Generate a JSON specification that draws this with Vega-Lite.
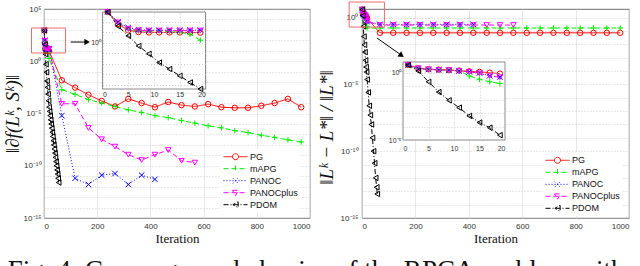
{
"$schema": "https://vega.github.io/schema/vega-lite/v6.json",
"padding": {"left": 2, "top": 1, "right": 0, "bottom": 0},
"background": "white",
"bounds": "flush",
"spacing": 52,
"title": {"text": "Fig. 4: Convergence behavior of the RPCA problem with", "orient": "bottom", "anchor": "start", "frame": "bounds", "font": "Liberation Serif", "fontSize": 27, "fontWeight": "normal", "color": "#111", "offset": 13, "dx": 5},
"config": {
  "view": {"stroke": "#4d4d4d", "strokeWidth": 0.8},
  "axis": {"labelFont": "Liberation Sans", "labelFontSize": 8, "labelColor": "#333", "titleFont": "Liberation Serif", "titleFontWeight": "normal", "titleColor": "#111", "ticks": false, "domain": false, "gridColor": "#dedede", "gridWidth": 0.7, "labelOverlap": false},
  "legend": {"labelFont": "Liberation Sans", "labelFontSize": 9, "labelColor": "#111"}
},
"datasets": {
"grad": [
{"alg":"PG","it":1,"v":900},{"alg":"PG","it":3,"v":63},{"alg":"PG","it":5,"v":16},{"alg":"PG","it":7,"v":11},{"alg":"PG","it":9,"v":10},{"alg":"PG","it":11,"v":10},{"alg":"PG","it":13,"v":10},{"alg":"PG","it":15,"v":10},{"alg":"PG","it":17,"v":10},{"alg":"PG","it":19,"v":9.5},
{"alg":"PG","it":67,"v":0.015},{"alg":"PG","it":117,"v":0.003},{"alg":"PG","it":167,"v":6.3e-4},{"alg":"PG","it":217,"v":1.6e-4},{"alg":"PG","it":267,"v":4.7e-5},{"alg":"PG","it":317,"v":2.5e-4},{"alg":"PG","it":367,"v":1.0e-4},{"alg":"PG","it":417,"v":4.0e-5},{"alg":"PG","it":467,"v":1.26e-4},{"alg":"PG","it":517,"v":6.3e-5},{"alg":"PG","it":567,"v":4.7e-5},{"alg":"PG","it":617,"v":7.9e-5},{"alg":"PG","it":667,"v":4.0e-5},{"alg":"PG","it":717,"v":3.5e-5},{"alg":"PG","it":767,"v":3.5e-5},{"alg":"PG","it":817,"v":5.5e-5},{"alg":"PG","it":867,"v":1.0e-4},{"alg":"PG","it":917,"v":2.5e-4},{"alg":"PG","it":967,"v":4.0e-5},
{"alg":"mAPG","it":1,"v":900},{"alg":"mAPG","it":3,"v":80},{"alg":"mAPG","it":5,"v":20},{"alg":"mAPG","it":7,"v":14},{"alg":"mAPG","it":9,"v":14},{"alg":"mAPG","it":11,"v":14},{"alg":"mAPG","it":13,"v":12.6},{"alg":"mAPG","it":15,"v":10},{"alg":"mAPG","it":17,"v":7},{"alg":"mAPG","it":19,"v":1.8},
{"alg":"mAPG","it":67,"v":1.9e-3},{"alg":"mAPG","it":117,"v":6.8e-4},{"alg":"mAPG","it":167,"v":2.1e-4},{"alg":"mAPG","it":217,"v":1.0e-4},{"alg":"mAPG","it":267,"v":4.7e-5},{"alg":"mAPG","it":317,"v":2.2e-5},{"alg":"mAPG","it":367,"v":1.26e-5},{"alg":"mAPG","it":417,"v":6.3e-6},{"alg":"mAPG","it":467,"v":4.0e-6},{"alg":"mAPG","it":517,"v":2.1e-6},{"alg":"mAPG","it":567,"v":1.2e-6},{"alg":"mAPG","it":617,"v":6.6e-7},{"alg":"mAPG","it":667,"v":4.2e-7},{"alg":"mAPG","it":717,"v":2.3e-7},{"alg":"mAPG","it":767,"v":1.5e-7},{"alg":"mAPG","it":817,"v":8.3e-8},{"alg":"mAPG","it":867,"v":5.2e-8},{"alg":"mAPG","it":917,"v":3.0e-8},{"alg":"mAPG","it":967,"v":1.9e-8},
{"alg":"PANOC","it":1,"v":900},{"alg":"PANOC","it":3,"v":100},{"alg":"PANOC","it":5,"v":29},{"alg":"PANOC","it":7,"v":18},{"alg":"PANOC","it":9,"v":16},{"alg":"PANOC","it":11,"v":16},{"alg":"PANOC","it":13,"v":16},{"alg":"PANOC","it":15,"v":16},{"alg":"PANOC","it":17,"v":16},{"alg":"PANOC","it":19,"v":16},
{"alg":"PANOC","it":67,"v":6.3e-6},{"alg":"PANOC","it":117,"v":6.3e-12},{"alg":"PANOC","it":167,"v":1.6e-12},{"alg":"PANOC","it":217,"v":1.26e-11},{"alg":"PANOC","it":267,"v":1.8e-11},{"alg":"PANOC","it":317,"v":1.6e-12},{"alg":"PANOC","it":367,"v":1.26e-11},{"alg":"PANOC","it":417,"v":5e-12},
{"alg":"PANOCplus","it":1,"v":900},{"alg":"PANOCplus","it":3,"v":90},{"alg":"PANOCplus","it":5,"v":22},{"alg":"PANOCplus","it":7,"v":16},{"alg":"PANOCplus","it":9,"v":15},{"alg":"PANOCplus","it":11,"v":15},{"alg":"PANOCplus","it":13,"v":15},{"alg":"PANOCplus","it":15,"v":15},{"alg":"PANOCplus","it":17,"v":15},{"alg":"PANOCplus","it":19,"v":15},
{"alg":"PANOCplus","it":67,"v":8.5e-5},{"alg":"PANOCplus","it":117,"v":8.5e-5},{"alg":"PANOCplus","it":167,"v":4.2e-7},{"alg":"PANOCplus","it":217,"v":3.4e-8},{"alg":"PANOCplus","it":267,"v":6.8e-9},{"alg":"PANOCplus","it":317,"v":1.15e-9},{"alg":"PANOCplus","it":367,"v":3.5e-10},{"alg":"PANOCplus","it":417,"v":1.15e-9},{"alg":"PANOCplus","it":467,"v":3.2e-9},{"alg":"PANOCplus","it":517,"v":3.0e-10},{"alg":"PANOCplus","it":567,"v":2.0e-10},
{"alg":"PDOM","it":1,"v":900},{"alg":"PDOM","it":3,"v":40},{"alg":"PDOM","it":5,"v":4.7},{"alg":"PDOM","it":7,"v":0.51},{"alg":"PDOM","it":9,"v":0.089},{"alg":"PDOM","it":11,"v":0.013},{"alg":"PDOM","it":13,"v":3.2e-3},{"alg":"PDOM","it":15,"v":7.2e-4},{"alg":"PDOM","it":17,"v":1.66e-4},{"alg":"PDOM","it":19,"v":4.0e-5},
{"alg":"PDOM","it":21,"v":1.6e-5},{"alg":"PDOM","it":23,"v":6.3e-6},{"alg":"PDOM","it":25,"v":2.5e-6},{"alg":"PDOM","it":27,"v":1.0e-6},{"alg":"PDOM","it":29,"v":4.0e-7},{"alg":"PDOM","it":31,"v":1.6e-7},{"alg":"PDOM","it":33,"v":6.3e-8},{"alg":"PDOM","it":35,"v":2.5e-8},{"alg":"PDOM","it":37,"v":1.0e-8},{"alg":"PDOM","it":39,"v":4.0e-9},{"alg":"PDOM","it":41,"v":1.6e-9},{"alg":"PDOM","it":43,"v":6.3e-10},{"alg":"PDOM","it":45,"v":2.5e-10},{"alg":"PDOM","it":47,"v":1.0e-10},{"alg":"PDOM","it":49,"v":4.0e-11},{"alg":"PDOM","it":51,"v":1.6e-11},{"alg":"PDOM","it":53,"v":6.3e-12},{"alg":"PDOM","it":55,"v":2.5e-12}
],
"err": [
{"alg":"PG","it":1,"v":4.0},{"alg":"PG","it":3,"v":2.24},{"alg":"PG","it":5,"v":1.9},{"alg":"PG","it":7,"v":1.78},{"alg":"PG","it":9,"v":1.66},{"alg":"PG","it":11,"v":1.51},{"alg":"PG","it":13,"v":1.32},{"alg":"PG","it":15,"v":1.2},{"alg":"PG","it":17,"v":1.05},{"alg":"PG","it":19,"v":0.89},
{"alg":"PG","it":67,"v":0.072},{"alg":"PG","it":117,"v":0.072},{"alg":"PG","it":167,"v":0.072},{"alg":"PG","it":217,"v":0.072},{"alg":"PG","it":267,"v":0.072},{"alg":"PG","it":317,"v":0.072},{"alg":"PG","it":367,"v":0.072},{"alg":"PG","it":417,"v":0.072},{"alg":"PG","it":467,"v":0.072},{"alg":"PG","it":517,"v":0.072},{"alg":"PG","it":567,"v":0.072},{"alg":"PG","it":617,"v":0.072},{"alg":"PG","it":667,"v":0.072},{"alg":"PG","it":717,"v":0.072},{"alg":"PG","it":767,"v":0.072},{"alg":"PG","it":817,"v":0.072},{"alg":"PG","it":867,"v":0.072},{"alg":"PG","it":917,"v":0.072},{"alg":"PG","it":967,"v":0.072},
{"alg":"mAPG","it":1,"v":4.0},{"alg":"mAPG","it":3,"v":2.2},{"alg":"mAPG","it":5,"v":1.9},{"alg":"mAPG","it":7,"v":1.78},{"alg":"mAPG","it":9,"v":1.66},{"alg":"mAPG","it":11,"v":1.45},{"alg":"mAPG","it":13,"v":0.6},{"alg":"mAPG","it":15,"v":0.34},{"alg":"mAPG","it":17,"v":0.22},{"alg":"mAPG","it":19,"v":0.165},
{"alg":"mAPG","it":67,"v":0.165},{"alg":"mAPG","it":117,"v":0.165},{"alg":"mAPG","it":167,"v":0.165},{"alg":"mAPG","it":217,"v":0.165},{"alg":"mAPG","it":267,"v":0.165},{"alg":"mAPG","it":317,"v":0.165},{"alg":"mAPG","it":367,"v":0.165},{"alg":"mAPG","it":417,"v":0.165},{"alg":"mAPG","it":467,"v":0.165},{"alg":"mAPG","it":517,"v":0.165},{"alg":"mAPG","it":567,"v":0.165},{"alg":"mAPG","it":617,"v":0.165},{"alg":"mAPG","it":667,"v":0.165},{"alg":"mAPG","it":717,"v":0.165},{"alg":"mAPG","it":767,"v":0.165},{"alg":"mAPG","it":817,"v":0.165},{"alg":"mAPG","it":867,"v":0.165},{"alg":"mAPG","it":917,"v":0.165},{"alg":"mAPG","it":967,"v":0.165},
{"alg":"PANOC","it":1,"v":4.0},{"alg":"PANOC","it":3,"v":2.2},{"alg":"PANOC","it":5,"v":1.85},{"alg":"PANOC","it":7,"v":1.7},{"alg":"PANOC","it":9,"v":1.6},{"alg":"PANOC","it":11,"v":1.4},{"alg":"PANOC","it":13,"v":1.25},{"alg":"PANOC","it":15,"v":1.0},{"alg":"PANOC","it":17,"v":0.62},{"alg":"PANOC","it":19,"v":0.5},
{"alg":"PANOC","it":67,"v":0.31},{"alg":"PANOC","it":117,"v":0.31},{"alg":"PANOC","it":167,"v":0.31},{"alg":"PANOC","it":217,"v":0.31},{"alg":"PANOC","it":267,"v":0.31},{"alg":"PANOC","it":317,"v":0.31},{"alg":"PANOC","it":367,"v":0.31},{"alg":"PANOC","it":417,"v":0.31},
{"alg":"PANOCplus","it":1,"v":4.0},{"alg":"PANOCplus","it":3,"v":2.2},{"alg":"PANOCplus","it":5,"v":1.85},{"alg":"PANOCplus","it":7,"v":1.7},{"alg":"PANOCplus","it":9,"v":1.6},{"alg":"PANOCplus","it":11,"v":1.4},{"alg":"PANOCplus","it":13,"v":1.2},{"alg":"PANOCplus","it":15,"v":0.95},{"alg":"PANOCplus","it":17,"v":0.6},{"alg":"PANOCplus","it":19,"v":0.48},
{"alg":"PANOCplus","it":67,"v":0.275},{"alg":"PANOCplus","it":117,"v":0.275},{"alg":"PANOCplus","it":167,"v":0.275},{"alg":"PANOCplus","it":217,"v":0.275},{"alg":"PANOCplus","it":267,"v":0.275},{"alg":"PANOCplus","it":317,"v":0.275},{"alg":"PANOCplus","it":367,"v":0.275},{"alg":"PANOCplus","it":417,"v":0.275},{"alg":"PANOCplus","it":467,"v":0.275},{"alg":"PANOCplus","it":517,"v":0.275},{"alg":"PANOCplus","it":567,"v":0.275},
{"alg":"PDOM","it":1,"v":4.0},{"alg":"PDOM","it":3,"v":1.4},{"alg":"PDOM","it":5,"v":0.22},{"alg":"PDOM","it":7,"v":0.038},{"alg":"PDOM","it":9,"v":9.1e-3},{"alg":"PDOM","it":11,"v":2.6e-3},{"alg":"PDOM","it":13,"v":6.3e-4},{"alg":"PDOM","it":15,"v":2.0e-4},{"alg":"PDOM","it":17,"v":8.3e-5},{"alg":"PDOM","it":19,"v":2.3e-5},
{"alg":"PDOM","it":23,"v":2.5e-6},{"alg":"PDOM","it":27,"v":2.5e-7},{"alg":"PDOM","it":31,"v":5e-8},{"alg":"PDOM","it":35,"v":1e-8},{"alg":"PDOM","it":39,"v":1e-9},{"alg":"PDOM","it":43,"v":1e-10},{"alg":"PDOM","it":47,"v":1.26e-11},{"alg":"PDOM","it":51,"v":1e-12},{"alg":"PDOM","it":55,"v":2e-13},{"alg":"PDOM","it":57,"v":6.3e-14}
]
},
"resolve": {"scale": {"color": "independent", "strokeDash": "independent", "shape": "independent"}},
"hconcat": [
{
 "width": 266, "height": 209,
 "data": {"name": "grad"},
 "resolve": {"scale": {"x": "independent", "y": "independent"}},
 "layer": [
  {
   "layer": [
    {"mark": {"type": "point", "filled": false, "size": 0, "strokeWidth": 0},
     "encoding": {
      "x": {"field": "it", "type": "quantitative", "scale": {"domain": [0, 1000], "nice": false}, "axis": {"values": [0,100,200,300,400,500,600,700,800,900,1000], "format": "d", "title": "Iteration", "titleFontSize": 13, "titlePadding": 2, "labelPadding": 4, "grid": true}},
      "y": {"field": "v", "type": "quantitative", "scale": {"type": "log", "domain": [1e-15, 1e5], "nice": false}, "axis": {"values": [1e-15,1e-14,1e-13,1e-12,1e-11,1e-10,1e-9,1e-8,1e-7,1e-6,1e-5,1e-4,1e-3,1e-2,1e-1,1,10,100,1000,1e4,1e5], "labelExpr": "indexof([5,0,-5,-10,-15], round(log(datum.value)/LN10)) >= 0 ? ['10⁵','10⁰','10⁻⁵','10⁻¹⁰','10⁻¹⁵'][indexof([5,0,-5,-10,-15], round(log(datum.value)/LN10))] : ''", "title": "‖∂f(Lᵏ, Sᵏ)‖", "titleFontSize": 19, "titleFontStyle": "italic", "titlePadding": 1, "titleY": 104.5, "labelPadding": 3, "grid": true, "gridDash": [1,2], "gridColor": "#bdbdbd"}},
      "color": {"field": "alg", "type": "nominal", "scale": {"domain": ["PG","mAPG","PANOC","PANOCplus","PDOM"], "range": ["#ff0000","#00ee00","#0000ff","#ff00ff","#000000"]}, "legend": {"orient": "none", "legendX": 177, "legendY": 139.7, "title": null, "symbolSize": 576, "symbolStrokeWidth": 1, "symbolOpacity": 1, "clipHeight": 12, "rowPadding": 0, "padding": 2, "fillColor": "white", "labelOffset": 2}},
      "strokeDash": {"field": "alg", "type": "nominal", "scale": {"domain": ["PG","mAPG","PANOC","PANOCplus","PDOM"], "range": [[1,0],[5,3],[1,2],[5,3],[5,2,1,2]]}, "legend": {"orient": "none", "legendX": 177, "legendY": 139.7, "title": null, "symbolSize": 576, "symbolStrokeWidth": 1, "symbolOpacity": 1, "clipHeight": 12, "rowPadding": 0, "padding": 2, "fillColor": "white", "labelOffset": 2}},
      "shape": {"field": "alg", "type": "nominal", "scale": {"domain": ["PG","mAPG","PANOC","PANOCplus","PDOM"], "range": ["M-1,0H-0.25M0.25,0H1M0.25,0A0.25,0.25,0,1,1,-0.25,0A0.25,0.25,0,1,1,0.25,0", "M-1,0H1M0,-0.28V0.28", "M-1,0H1M-0.22,-0.22L0.22,0.22M-0.22,0.22L0.22,-0.22", "M-1,0H1M-0.25,-0.2L0.25,-0.2L0,0.24Z", "M-1,0H1M0.22,-0.25L0.22,0.25L-0.22,0Z"]}, "legend": {"orient": "none", "legendX": 177, "legendY": 139.7, "title": null, "symbolSize": 576, "symbolStrokeWidth": 1, "symbolOpacity": 1, "clipHeight": 12, "rowPadding": 0, "padding": 2, "fillColor": "white", "labelOffset": 2}}
     }},
    {"mark": {"type": "line", "strokeWidth": 1},
     "encoding": {
      "x": {"field": "it", "type": "quantitative"},
      "y": {"field": "v", "type": "quantitative"},
      "color": {"field": "alg", "type": "nominal", "legend": null},
      "strokeDash": {"field": "alg", "type": "nominal", "legend": null}
     }},
    {"transform": [{"filter": "datum.alg == 'PG'"}], "mark": {"type": "point", "shape": "circle", "filled": false, "size": 30, "strokeWidth": 1, "opacity": 1},
     "encoding": {"x": {"field": "it", "type": "quantitative"}, "y": {"field": "v", "type": "quantitative"}, "color": {"field": "alg", "type": "nominal", "legend": null}}},
    {"transform": [{"filter": "datum.alg == 'mAPG'"}], "mark": {"type": "point", "shape": "M-1,0H1M0,-1V1", "filled": false, "size": 30, "strokeWidth": 1, "opacity": 1},
     "encoding": {"x": {"field": "it", "type": "quantitative"}, "y": {"field": "v", "type": "quantitative"}, "color": {"field": "alg", "type": "nominal", "legend": null}}},
    {"transform": [{"filter": "datum.alg == 'PANOC'"}], "mark": {"type": "point", "shape": "M-1,-1L1,1M-1,1L1,-1", "filled": false, "size": 30, "strokeWidth": 1, "opacity": 1},
     "encoding": {"x": {"field": "it", "type": "quantitative"}, "y": {"field": "v", "type": "quantitative"}, "color": {"field": "alg", "type": "nominal", "legend": null}}},
    {"transform": [{"filter": "datum.alg == 'PANOCplus'"}], "mark": {"type": "point", "shape": "triangle-down", "filled": false, "size": 30, "strokeWidth": 1, "opacity": 1},
     "encoding": {"x": {"field": "it", "type": "quantitative"}, "y": {"field": "v", "type": "quantitative"}, "color": {"field": "alg", "type": "nominal", "legend": null}}},
    {"transform": [{"filter": "datum.alg == 'PDOM'"}], "mark": {"type": "point", "shape": "triangle-left", "filled": false, "size": 30, "strokeWidth": 1, "opacity": 1},
     "encoding": {"x": {"field": "it", "type": "quantitative"}, "y": {"field": "v", "type": "quantitative"}, "color": {"field": "alg", "type": "nominal", "legend": null}}},
    {"data": {"values": [{}]}, "mark": {"type": "rect", "fillOpacity": 0, "stroke": "#f06a6a", "strokeWidth": 1},
     "encoding": {"x": {"datum": -47, "type": "quantitative"}, "x2": {"datum": 81}, "y": {"datum": 1514, "type": "quantitative"}, "y2": {"datum": 6.2}}},
    {"data": {"values": [{}]}, "mark": {"type": "rule", "color": "black", "strokeWidth": 1},
     "encoding": {"x": {"datum": 100, "type": "quantitative"}, "x2": {"datum": 160}, "y": {"datum": 69, "type": "quantitative"}, "y2": {"datum": 69}}},
    {"data": {"values": [{}]}, "mark": {"type": "point", "shape": "triangle-right", "filled": true, "size": 40, "color": "black", "opacity": 1},
     "encoding": {"x": {"datum": 162, "type": "quantitative"}, "y": {"datum": 69, "type": "quantitative"}}}
   ]
  },
  {
   "layer": [
    {"data": {"values": [{}]}, "mark": {"type": "rect", "fill": "white", "stroke": "#6e6e6e", "strokeWidth": 0.8},
     "encoding": {"x": {"datum": 0, "type": "quantitative"}, "x2": {"datum": 20}, "y": {"datum": 891, "type": "quantitative"}, "y2": {"datum": 3.98e-5}}},
    {"transform": [{"filter": "datum.it <= 20"}],
     "mark": {"type": "line", "strokeWidth": 1},
     "encoding": {
      "x": {"field": "it", "type": "quantitative", "scale": {"domain": [0, 20], "range": [58.5, 161.5], "nice": false}, "axis": {"orient": "top", "offset": -88.5, "values": [0,5,10,15,20], "title": null, "grid": true, "gridDash": [1,2], "gridColor": "#bbbbbb", "labelPadding": 0, "labelFontSize": 7, "zindex": 1}},
      "y": {"field": "v", "type": "quantitative", "scale": {"type": "log", "domain": [3.98e-5, 891], "range": [80, 3], "nice": false}, "axis": {"orient": "left", "offset": -58.5, "values": [1e-4,1e-3,1e-2,0.1,1,10,100], "labelExpr": "datum.value == 1 ? '10⁰' : ''", "title": null, "grid": true, "gridDash": [1,2], "gridColor": "#bbbbbb", "labelPadding": 2, "labelFontSize": 7, "zindex": 1}},
      "color": {"field": "alg", "type": "nominal", "legend": null},
      "strokeDash": {"field": "alg", "type": "nominal", "legend": null}
     }},
    {"transform": [{"filter": "datum.alg == 'PG' && datum.it <= 20"}], "mark": {"type": "point", "shape": "circle", "filled": false, "size": 30, "strokeWidth": 1, "opacity": 1},
     "encoding": {"x": {"field": "it", "type": "quantitative"}, "y": {"field": "v", "type": "quantitative"}, "color": {"field": "alg", "type": "nominal", "legend": null}}},
    {"transform": [{"filter": "datum.alg == 'mAPG' && datum.it <= 20"}], "mark": {"type": "point", "shape": "M-1,0H1M0,-1V1", "filled": false, "size": 30, "strokeWidth": 1, "opacity": 1},
     "encoding": {"x": {"field": "it", "type": "quantitative"}, "y": {"field": "v", "type": "quantitative"}, "color": {"field": "alg", "type": "nominal", "legend": null}}},
    {"transform": [{"filter": "datum.alg == 'PANOC' && datum.it <= 20"}], "mark": {"type": "point", "shape": "M-1,-1L1,1M-1,1L1,-1", "filled": false, "size": 30, "strokeWidth": 1, "opacity": 1},
     "encoding": {"x": {"field": "it", "type": "quantitative"}, "y": {"field": "v", "type": "quantitative"}, "color": {"field": "alg", "type": "nominal", "legend": null}}},
    {"transform": [{"filter": "datum.alg == 'PANOCplus' && datum.it <= 20"}], "mark": {"type": "point", "shape": "triangle-down", "filled": false, "size": 30, "strokeWidth": 1, "opacity": 1},
     "encoding": {"x": {"field": "it", "type": "quantitative"}, "y": {"field": "v", "type": "quantitative"}, "color": {"field": "alg", "type": "nominal", "legend": null}}},
    {"transform": [{"filter": "datum.alg == 'PDOM' && datum.it <= 20"}], "mark": {"type": "point", "shape": "triangle-left", "filled": false, "size": 30, "strokeWidth": 1, "opacity": 1},
     "encoding": {"x": {"field": "it", "type": "quantitative"}, "y": {"field": "v", "type": "quantitative"}, "color": {"field": "alg", "type": "nominal", "legend": null}}}
   ]
  }
 ]
},
{
 "width": 267, "height": 209,
 "data": {"name": "err"},
 "resolve": {"scale": {"x": "independent", "y": "independent"}},
 "layer": [
  {
   "layer": [
    {"mark": {"type": "point", "filled": false, "size": 0, "strokeWidth": 0},
     "encoding": {
      "x": {"field": "it", "type": "quantitative", "scale": {"domain": [0, 1000], "nice": false}, "axis": {"values": [0,100,200,300,400,500,600,700,800,900,1000], "format": "d", "title": "Iteration", "titleFontSize": 13, "titlePadding": 2, "labelPadding": 4, "grid": true}},
      "y": {"field": "v", "type": "quantitative", "scale": {"type": "log", "domain": [1e-15, 4.37], "nice": false}, "axis": {"values": [1e-15,1e-14,1e-13,1e-12,1e-11,1e-10,1e-9,1e-8,1e-7,1e-6,1e-5,1e-4,1e-3,1e-2,1e-1,1], "labelExpr": "indexof([0,-5,-10,-15], round(log(datum.value)/LN10)) >= 0 ? ['10⁰','10⁻⁵','10⁻¹⁰','10⁻¹⁵'][indexof([0,-5,-10,-15], round(log(datum.value)/LN10))] : ''", "title": "‖Lᵏ − L*‖ / ‖L*‖", "titleFontSize": 19, "titleFontStyle": "italic", "titlePadding": 4, "titleY": 118, "labelPadding": 4, "grid": true, "gridDash": [1,2], "gridColor": "#bdbdbd"}},
      "color": {"field": "alg", "type": "nominal", "scale": {"domain": ["PG","mAPG","PANOC","PANOCplus","PDOM"], "range": ["#ff0000","#00ee00","#0000ff","#ff00ff","#000000"]}, "legend": {"orient": "none", "legendX": 181, "legendY": 143.3, "title": null, "symbolSize": 576, "symbolStrokeWidth": 1, "symbolOpacity": 1, "clipHeight": 12, "rowPadding": 0, "padding": 2, "fillColor": "white", "labelOffset": 2}},
      "strokeDash": {"field": "alg", "type": "nominal", "scale": {"domain": ["PG","mAPG","PANOC","PANOCplus","PDOM"], "range": [[1,0],[5,3],[1,2],[5,3],[5,2,1,2]]}, "legend": {"orient": "none", "legendX": 181, "legendY": 143.3, "title": null, "symbolSize": 576, "symbolStrokeWidth": 1, "symbolOpacity": 1, "clipHeight": 12, "rowPadding": 0, "padding": 2, "fillColor": "white", "labelOffset": 2}},
      "shape": {"field": "alg", "type": "nominal", "scale": {"domain": ["PG","mAPG","PANOC","PANOCplus","PDOM"], "range": ["M-1,0H-0.25M0.25,0H1M0.25,0A0.25,0.25,0,1,1,-0.25,0A0.25,0.25,0,1,1,0.25,0", "M-1,0H1M0,-0.28V0.28", "M-1,0H1M-0.22,-0.22L0.22,0.22M-0.22,0.22L0.22,-0.22", "M-1,0H1M-0.25,-0.2L0.25,-0.2L0,0.24Z", "M-1,0H1M0.22,-0.25L0.22,0.25L-0.22,0Z"]}, "legend": {"orient": "none", "legendX": 181, "legendY": 143.3, "title": null, "symbolSize": 576, "symbolStrokeWidth": 1, "symbolOpacity": 1, "clipHeight": 12, "rowPadding": 0, "padding": 2, "fillColor": "white", "labelOffset": 2}}
     }},
    {"mark": {"type": "line", "strokeWidth": 1},
     "encoding": {
      "x": {"field": "it", "type": "quantitative"},
      "y": {"field": "v", "type": "quantitative"},
      "color": {"field": "alg", "type": "nominal", "legend": null},
      "strokeDash": {"field": "alg", "type": "nominal", "legend": null}
     }},
    {"transform": [{"filter": "datum.alg == 'PG'"}], "mark": {"type": "point", "shape": "circle", "filled": false, "size": 30, "strokeWidth": 1, "opacity": 1},
     "encoding": {"x": {"field": "it", "type": "quantitative"}, "y": {"field": "v", "type": "quantitative"}, "color": {"field": "alg", "type": "nominal", "legend": null}}},
    {"transform": [{"filter": "datum.alg == 'mAPG'"}], "mark": {"type": "point", "shape": "M-1,0H1M0,-1V1", "filled": false, "size": 30, "strokeWidth": 1, "opacity": 1},
     "encoding": {"x": {"field": "it", "type": "quantitative"}, "y": {"field": "v", "type": "quantitative"}, "color": {"field": "alg", "type": "nominal", "legend": null}}},
    {"transform": [{"filter": "datum.alg == 'PANOC'"}], "mark": {"type": "point", "shape": "M-1,-1L1,1M-1,1L1,-1", "filled": false, "size": 30, "strokeWidth": 1, "opacity": 1},
     "encoding": {"x": {"field": "it", "type": "quantitative"}, "y": {"field": "v", "type": "quantitative"}, "color": {"field": "alg", "type": "nominal", "legend": null}}},
    {"transform": [{"filter": "datum.alg == 'PANOCplus'"}], "mark": {"type": "point", "shape": "triangle-down", "filled": false, "size": 30, "strokeWidth": 1, "opacity": 1},
     "encoding": {"x": {"field": "it", "type": "quantitative"}, "y": {"field": "v", "type": "quantitative"}, "color": {"field": "alg", "type": "nominal", "legend": null}}},
    {"transform": [{"filter": "datum.alg == 'PDOM'"}], "mark": {"type": "point", "shape": "triangle-left", "filled": false, "size": 30, "strokeWidth": 1, "opacity": 1},
     "encoding": {"x": {"field": "it", "type": "quantitative"}, "y": {"field": "v", "type": "quantitative"}, "color": {"field": "alg", "type": "nominal", "legend": null}}},
    {"data": {"values": [{}]}, "mark": {"type": "rect", "fillOpacity": 0, "stroke": "#f06a6a", "strokeWidth": 1},
     "encoding": {"x": {"datum": -48, "type": "quantitative"}, "x2": {"datum": 84}, "y": {"datum": 14.5, "type": "quantitative"}, "y2": {"datum": 0.195}}},
    {"data": {"values": [{}]}, "mark": {"type": "rule", "color": "black", "strokeWidth": 1},
     "encoding": {"x": {"datum": 56, "type": "quantitative"}, "x2": {"datum": 146}, "y": {"datum": 0.0295, "type": "quantitative"}, "y2": {"datum": 0.0016}}},
    {"data": {"values": [{}]}, "mark": {"type": "point", "shape": "triangle-right", "filled": true, "size": 40, "color": "black", "opacity": 1, "angle": 36},
     "encoding": {"x": {"datum": 148, "type": "quantitative"}, "y": {"datum": 0.00145, "type": "quantitative"}}}
   ]
  },
  {
   "layer": [
    {"data": {"values": [{}]}, "mark": {"type": "rect", "fill": "white", "stroke": "#6e6e6e", "strokeWidth": 0.8},
     "encoding": {"x": {"datum": 0, "type": "quantitative"}, "x2": {"datum": 20}, "y": {"datum": 6.6, "type": "quantitative"}, "y2": {"datum": 1e-5}}},
    {"transform": [{"filter": "datum.it <= 20"}],
     "mark": {"type": "line", "strokeWidth": 1},
     "encoding": {
      "x": {"field": "it", "type": "quantitative", "scale": {"domain": [0, 20], "range": [41, 143], "nice": false}, "axis": {"orient": "top", "offset": -142.5, "values": [0,5,10,15,20], "title": null, "grid": true, "gridDash": [1,2], "gridColor": "#bbbbbb", "labelPadding": 0, "labelFontSize": 7, "zindex": 1}},
      "y": {"field": "v", "type": "quantitative", "scale": {"type": "log", "domain": [1e-5, 6.6], "range": [131, 53], "nice": false}, "axis": {"orient": "left", "offset": -41, "values": [1e-5,1e-4,1e-3,1e-2,0.1,1], "labelExpr": "datum.value == 1 ? '10⁰' : datum.value < 2e-5 ? '10⁻⁵' : ''", "title": null, "grid": true, "gridDash": [1,2], "gridColor": "#bbbbbb", "labelPadding": 2, "labelFontSize": 7, "zindex": 1}},
      "color": {"field": "alg", "type": "nominal", "legend": null},
      "strokeDash": {"field": "alg", "type": "nominal", "legend": null}
     }},
    {"transform": [{"filter": "datum.alg == 'PG' && datum.it <= 20"}], "mark": {"type": "point", "shape": "circle", "filled": false, "size": 30, "strokeWidth": 1, "opacity": 1},
     "encoding": {"x": {"field": "it", "type": "quantitative"}, "y": {"field": "v", "type": "quantitative"}, "color": {"field": "alg", "type": "nominal", "legend": null}}},
    {"transform": [{"filter": "datum.alg == 'mAPG' && datum.it <= 20"}], "mark": {"type": "point", "shape": "M-1,0H1M0,-1V1", "filled": false, "size": 30, "strokeWidth": 1, "opacity": 1},
     "encoding": {"x": {"field": "it", "type": "quantitative"}, "y": {"field": "v", "type": "quantitative"}, "color": {"field": "alg", "type": "nominal", "legend": null}}},
    {"transform": [{"filter": "datum.alg == 'PANOC' && datum.it <= 20"}], "mark": {"type": "point", "shape": "M-1,-1L1,1M-1,1L1,-1", "filled": false, "size": 30, "strokeWidth": 1, "opacity": 1},
     "encoding": {"x": {"field": "it", "type": "quantitative"}, "y": {"field": "v", "type": "quantitative"}, "color": {"field": "alg", "type": "nominal", "legend": null}}},
    {"transform": [{"filter": "datum.alg == 'PANOCplus' && datum.it <= 20"}], "mark": {"type": "point", "shape": "triangle-down", "filled": false, "size": 30, "strokeWidth": 1, "opacity": 1},
     "encoding": {"x": {"field": "it", "type": "quantitative"}, "y": {"field": "v", "type": "quantitative"}, "color": {"field": "alg", "type": "nominal", "legend": null}}},
    {"transform": [{"filter": "datum.alg == 'PDOM' && datum.it <= 20"}], "mark": {"type": "point", "shape": "triangle-left", "filled": false, "size": 30, "strokeWidth": 1, "opacity": 1},
     "encoding": {"x": {"field": "it", "type": "quantitative"}, "y": {"field": "v", "type": "quantitative"}, "color": {"field": "alg", "type": "nominal", "legend": null}}}
   ]
  }
 ]
}
]
}
